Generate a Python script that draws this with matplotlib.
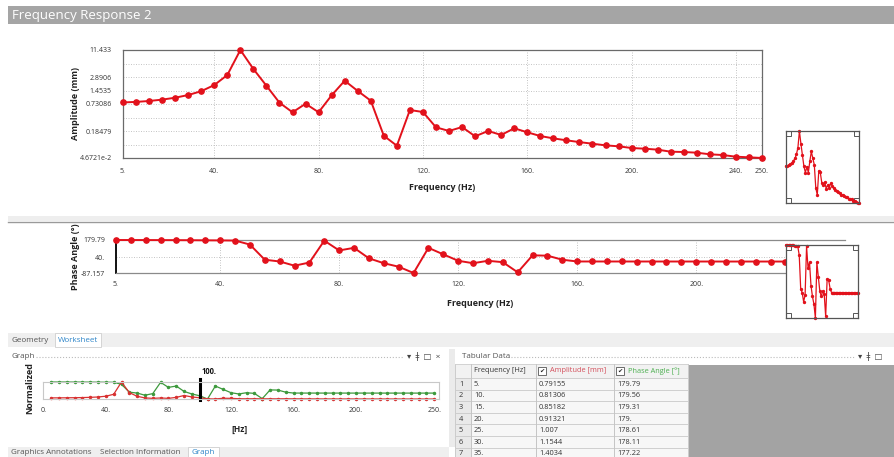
import numpy as np
import matplotlib
matplotlib.use('Agg')
import matplotlib.pyplot as plt
from matplotlib.patches import Rectangle
from matplotlib.ticker import NullFormatter

plt.rcParams['font.family'] = ['Open Sans', 'DejaVu Sans']

W, H = 894, 457

freq_hz = [5, 10, 15, 20, 25, 30, 35, 40, 45, 50,
           55, 60, 65, 70, 75, 80, 85, 90, 95, 100,
           105, 110, 115, 120, 125, 130, 135, 140, 145, 150,
           155, 160, 165, 170, 175, 180, 185, 190, 195, 200,
           205, 210, 215, 220, 225, 230, 235, 240, 245, 250]
amp_mm = [0.79155, 0.81306, 0.85182, 0.91321, 1.007, 1.1544, 1.4034, 1.92, 3.2, 11.433,
          4.34, 1.85, 0.78, 0.479, 0.741, 0.48, 1.14, 2.39, 1.42, 0.865,
          0.145, 0.0873, 0.538, 0.486, 0.223, 0.185, 0.226, 0.141, 0.185, 0.151,
          0.212, 0.173, 0.143, 0.127, 0.115, 0.105, 0.0967, 0.089, 0.0847, 0.0777,
          0.0751, 0.0714, 0.0644, 0.0634, 0.0612, 0.0564, 0.0543, 0.0499, 0.0484, 0.046721]
phase_deg = [179.79, 179.56, 179.31, 179.0, 178.61, 178.11, 177.22, 176.5, 175.4, 142.8,
             20.2, 6.0, -28.0, -2.5, 174.5, 95.3, 116.4, 31.5, -8.0, -36.4,
             -87.157, 116.4, 63.6, 11.7, -8.0, 11.7, 0.4, -81.6, 55.7, 53.0,
             20.2, 6.0, 6.0, 5.9, 5.9, 5.8, 5.8, 5.8, 5.7, 5.7,
             5.7, 5.6, 5.6, 5.6, 5.6, 5.5, 5.5, 5.5, 5.5, 5.4]

amp_tick_labels = ["4.6721e-2", "0.18479", "0.73086", "1.4535", "2.8906", "11.433"]
amp_xticks = [5, 40, 80, 120, 160, 200, 240, 250]
phase_yticks = [-87.157, 40, 179.79]
phase_tick_labels = ["-87.157", "40.", "179.79"]
phase_xticks = [5, 40, 80, 120, 160, 200]
norm_xticks = [0, 40, 80, 120, 160, 200, 250]
cursor_hz = 100
table_rows = 7

RED = '#e2111b'
GREEN = '#3d9a3d'
TXT = '#333333'
GRID = dict(color='#bdbdbd', lw=0.6, ls=(0, (1.2, 1.8)))


def ansys_fmt(v):
    s = f"{v:.5g}"
    return s if '.' in s or 'e' in s else s + '.'


fig = plt.figure(figsize=(W / 100, H / 100), dpi=100)

bg = fig.add_axes([0, 0, 1, 1])
bg.set_xlim(0, W)
bg.set_ylim(H, 0)
bg.axis('off')


def px_axes(x0, y0, x1, y1):
    return fig.add_axes([x0 / W, 1 - y1 / H, (x1 - x0) / W, (y1 - y0) / H])


def rect(x0, y0, x1, y1, fc, ec='none', lw=0.8, z=1):
    bg.add_patch(Rectangle((x0, y0), x1 - x0, y1 - y0, facecolor=fc,
                           edgecolor=ec, lw=lw, zorder=z))


def txt(x, y, s, **kw):
    kw.setdefault('va', 'center')
    kw.setdefault('fontsize', 5.8)
    kw.setdefault('color', '#555555')
    bg.text(x, y, s, **kw)


# title bar + separator
rect(8, 6, 894, 24, '#a5a5a5')
txt(12, 15.5, 'Frequency Response 2', color='white', fontsize=9.5)
rect(8, 216, 894, 221, '#eeeeee')
bg.plot([8, 894], [221.5, 221.5], color='#9a9a9a', lw=1)

# ---------------- amplitude plot ----------------
ax1 = px_axes(123, 50, 762, 158)
ax1.set_facecolor('none')
ax1.plot(freq_hz, amp_mm, color=RED, lw=1.4, marker='o', ms=3.8, clip_on=False, zorder=3)
ax1.set_yscale('log')
lo, hi = min(amp_mm), max(amp_mm)
ax1.set_xlim(min(freq_hz), max(freq_hz))
ax1.set_ylim(lo, hi)
levels = np.geomspace(lo, hi, 9)
ax1.set_yticks(levels[[0, 2, 4, 5, 6, 8]])
ax1.set_yticklabels(amp_tick_labels)
ax1.set_yticks(levels, minor=True)
ax1.yaxis.set_minor_formatter(NullFormatter())
ax1.set_xticks(amp_xticks)
ax1.set_xticklabels([f"{v:g}." for v in amp_xticks])
ax1.grid(True, which='both', **GRID)
ax1.tick_params(which='both', length=0, labelsize=5, colors=TXT)
ax1.tick_params(axis='y', pad=8)
ax1.tick_params(axis='x', pad=7)
for sp in ax1.spines.values():
    sp.set_color('#6a6a6a')
    sp.set_linewidth(0.9)
txt(442.5, 188, 'Frequency (Hz)', ha='center', fontsize=6.5, fontweight='bold', color='#222222')
txt(76, 104, 'Amplitude (mm)', ha='center', rotation=90, fontsize=6.5,
    fontweight='bold', color='#222222')

# ---------------- phase plot ----------------
ax2 = px_axes(116, 240, 845, 273)
ax2.set_facecolor('none')
ax2.plot(freq_hz, phase_deg, color=RED, lw=1.4, marker='o', ms=3.8, clip_on=False, zorder=3)
ax2.set_xlim(min(freq_hz), max(freq_hz))
ax2.set_ylim(min(phase_deg), max(phase_deg))
ax2.set_yticks(phase_yticks)
ax2.set_yticklabels(phase_tick_labels)
ax2.set_xticks(phase_xticks)
ax2.set_xticklabels([f"{v:g}." for v in phase_xticks])
ax2.grid(True, **GRID)
ax2.tick_params(length=0, labelsize=5, colors=TXT)
ax2.tick_params(axis='y', pad=8)
ax2.tick_params(axis='x', pad=6)
ax2.spines['right'].set_visible(False)
ax2.spines['left'].set_color('black')
ax2.spines['left'].set_linewidth(1.3)
for k in ('top', 'bottom'):
    ax2.spines[k].set_color('#8a8a8a')
    ax2.spines[k].set_linewidth(0.9)
txt(480, 303, 'Frequency (Hz)', ha='center', fontsize=6.5, fontweight='bold', color='#222222')
txt(75, 257, 'Phase Angle (°)', ha='center', rotation=90, fontsize=6.5,
    fontweight='bold', color='#222222')


# ---------------- thumbnails ----------------
def thumb(x0, y0, x1, y1, ys, log=False):
    t = px_axes(x0, y0, x1, y1)
    t.set_zorder(5)
    t.set_facecolor('white')
    t.plot(freq_hz, ys, color=RED, lw=0.9, marker='o', ms=1.4, clip_on=False)
    if log:
        t.set_yscale('log')
    t.set_xlim(min(freq_hz), max(freq_hz))
    t.set_ylim(min(ys), max(ys))
    t.set_xticks([])
    t.set_yticks([])
    t.minorticks_off()
    for sp in t.spines.values():
        sp.set_color('#555555')
        sp.set_linewidth(0.9)
    sw, sh = 5 / (x1 - x0), 5 / (y1 - y0)
    for cx, cy in [(0, 0), (1 - sw, 0), (0, 1 - sh), (1 - sw, 1 - sh)]:
        t.add_patch(Rectangle((cx, cy), sw, sh, transform=t.transAxes, facecolor='none',
                              edgecolor='#555555', lw=0.7, clip_on=False))
    return t


thumb(786, 131, 859, 203, amp_mm, log=True)
thumb(786, 245, 858, 318, phase_deg)

# ---------------- lower panels ----------------
rect(8, 333, 894, 347, '#efefef')
rect(55, 333, 101, 347, 'white', ec='#cfcfcf', lw=0.6, z=2)
txt(11, 340.5, 'Geometry')
txt(58, 340.5, 'Worksheet', color='#2f86c9', zorder=3)

txt(11, 356.5, 'Graph')
bg.plot([36, 404], [357, 357], ls=':', color='#bbbbbb', lw=0.8)
txt(407, 356.5, '▾  ǂ  □  ×', fontsize=6, color='#444444')

rect(449, 349, 455, 447, '#ebebeb')
txt(462, 356.5, 'Tabular Data')
bg.plot([508, 855], [357, 357], ls=':', color='#bbbbbb', lw=0.8)
txt(858, 356.5, '▾  ǂ  □', fontsize=6, color='#444444')

rect(8, 447, 449, 457, '#efefef')
rect(188, 447, 219, 458, 'white', ec='#cfcfcf', lw=0.6, z=2)
txt(11, 453, 'Graphics Annotations')
txt(100, 453, 'Selection Information')
txt(192, 453, 'Graph', color='#2f86c9', zorder=3)

# normalized mini graph
amp_a = np.array(amp_mm)
ph_a = np.array(phase_deg)
amp_n = (amp_a - amp_a.min()) / (amp_a.max() - amp_a.min())
ph_n = (ph_a - ph_a.min()) / (ph_a.max() - ph_a.min())

ax3 = px_axes(43.3, 382, 439, 399)
ax3.set_facecolor('none')
ax3.plot(freq_hz, ph_n, color=GREEN, lw=0.9, marker='o', ms=1.5, clip_on=False)
ax3.plot(freq_hz, amp_n, color='#d83030', lw=0.9, marker='o', ms=1.5, clip_on=False)
ax3.set_xlim(0, 253)
ax3.set_ylim(0, 1)
ax3.set_xticks(norm_xticks)
ax3.set_xticklabels([f"{v:g}." for v in norm_xticks])
ax3.set_yticks([])
ax3.tick_params(length=0, labelsize=5, colors=TXT, pad=6)
for sp in ax3.spines.values():
    sp.set_color('#c8c8c8')
    sp.set_linewidth(0.8)
ax3.axvline(cursor_hz, ymin=-0.06, ymax=1.2, color='black', lw=2.2, clip_on=False)
ax3.text(cursor_hz + 1, 1.6, f"{cursor_hz:g}.", fontsize=5.5, fontweight='bold',
         va='center', ha='left', color='#111111')
txt(30, 388, 'Normalized', ha='center', rotation=90, fontsize=6.5,
    fontweight='bold', color='#222222')
txt(240, 429, '[Hz]', ha='center', fontsize=6, fontweight='bold', color='#222222')

# tabular data
rect(688, 365, 894, 457, '#a3a3a3')
col_x = [455, 471, 536, 614, 688]
rect(455, 364, 688, 378, '#f2f2f2', ec='#cccccc', lw=0.6)
for x in col_x:
    bg.plot([x, x], [364, 457], color='#cccccc', lw=0.6)
txt(474, 371, 'Frequency [Hz]', color=TXT, fontsize=5.3)
for cx, label, col in [(538, 'Amplitude [mm]', '#d4505c'), (616, 'Phase Angle [°]', '#4caf50')]:
    rect(cx, 367, cx + 8, 375, 'white', ec='#555555', lw=0.6, z=2)
    txt(cx + 4, 371, '✔', ha='center', fontsize=4.5, color='#222222', zorder=3)
    txt(cx + 12, 371, label, color=col, fontsize=5.3)
for i in range(table_rows):
    top = 378 + i * 11.6
    rect(455, top, 471, top + 11.6, '#e9e9e9', ec='#cccccc', lw=0.6)
    rect(471, top, 688, top + 11.6, '#f7f7f7', ec='#cccccc', lw=0.6)
    yc = top + 6.3
    txt(459, yc, str(i + 1), color=TXT, fontsize=5.3)
    txt(474, yc, ansys_fmt(freq_hz[i]), color=TXT, fontsize=5.3)
    txt(539, yc, ansys_fmt(amp_mm[i]), color=TXT, fontsize=5.3)
    txt(617, yc, ansys_fmt(phase_deg[i]), color=TXT, fontsize=5.3)
for x in col_x[1:4]:
    bg.plot([x, x], [364, 457], color='#c4c4c4', lw=0.6, zorder=2)

fig.savefig('out.png', dpi=100)
